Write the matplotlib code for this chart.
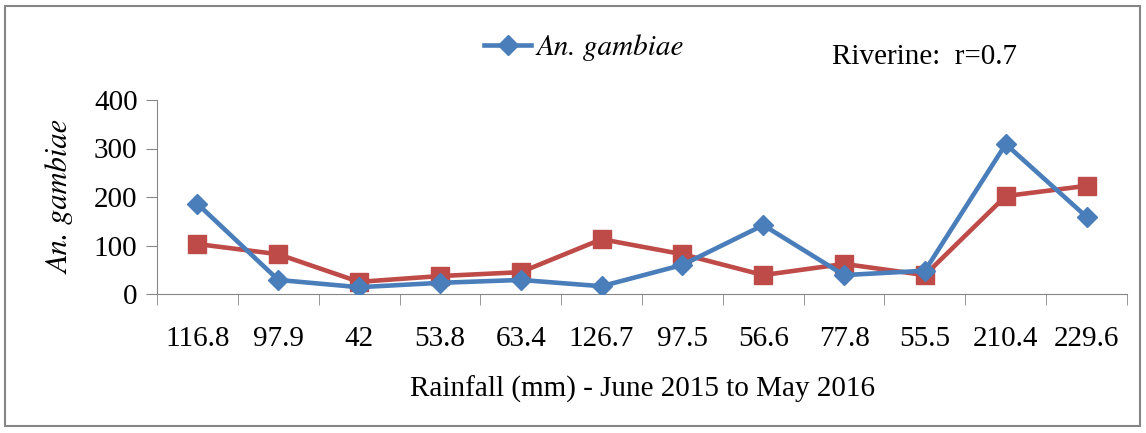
import matplotlib.pyplot as plt
from matplotlib.patches import Rectangle
from matplotlib.font_manager import FontProperties

rainfall = ["116.8", "97.9", "42", "53.8", "63.4", "126.7", "97.5", "56.6",
            "77.8", "55.5", "210.4", "229.6"]
gambiae = [186, 29, 14, 23, 29, 16, 60, 142, 39, 48, 309, 159]
second = [103, 82, 25, 37, 45, 113, 82, 39, 62, 39, 202, 223]

plt.rcParams["font.family"] = ["Liberation Serif", "DejaVu Serif"]
# Liberation Serif has no italic here, STIX (bundled) is Times-like
ital = FontProperties(family="STIXGeneral", style="italic", size=21)

fig = plt.figure(figsize=(11.46, 4.33), dpi=100)
ax = fig.add_axes([157 / 1146, 1 - 294 / 433, (1127 - 157) / 1146, 194 / 433])

x = list(range(len(rainfall)))
ax.plot(x, gambiae, color="#4A7EBB", lw=3.3, marker="D", ms=10,
        label="An. gambiae", zorder=3)
ax.plot(x, second, color="#BE4B48", lw=3.3, marker="s", ms=12.5, zorder=2)

ax.set_xlim(-0.5, len(rainfall) - 0.5)
ax.set_ylim(0, 400)
ax.set_yticks([0, 100, 200, 300, 400])
ax.set_xticks(x)
ax.set_xticklabels(rainfall)
ax.set_xticks([i - 0.5 for i in range(len(rainfall) + 1)], minor=True)
ax.tick_params(axis="x", which="major", length=0, pad=23, labelsize=21)
ax.tick_params(axis="x", which="minor", length=8, color="#868686", direction="out")
ax.tick_params(axis="y", length=8, color="#868686", labelsize=21, pad=6)

for s in ["top", "right"]:
    ax.spines[s].set_visible(False)
for s in ["left", "bottom"]:
    ax.spines[s].set_color("#868686")

ax.set_xlabel("Rainfall (mm) - June 2015 to May 2016", fontsize=21, labelpad=17)
ax.set_ylabel("An. gambiae", fontproperties=FontProperties(
    family="STIXGeneral", style="italic", size=22), labelpad=14)

leg = fig.legend(loc="center left", bbox_to_anchor=(458 / 1146, 1 - 48 / 433),
                 frameon=False, prop=ital,
                 handlelength=1.6, handletextpad=0.2)
fig.text(832 / 1146, 1 - 57 / 433, "Riverine:  r=0.7", fontsize=21, va="center")

fig.patches.append(Rectangle((5 / 1146, 7 / 433), 1135 / 1146, 420 / 433,
                             transform=fig.transFigure, fill=False,
                             edgecolor="#868686", lw=1.5))

fig.savefig("out.png", dpi=100)
